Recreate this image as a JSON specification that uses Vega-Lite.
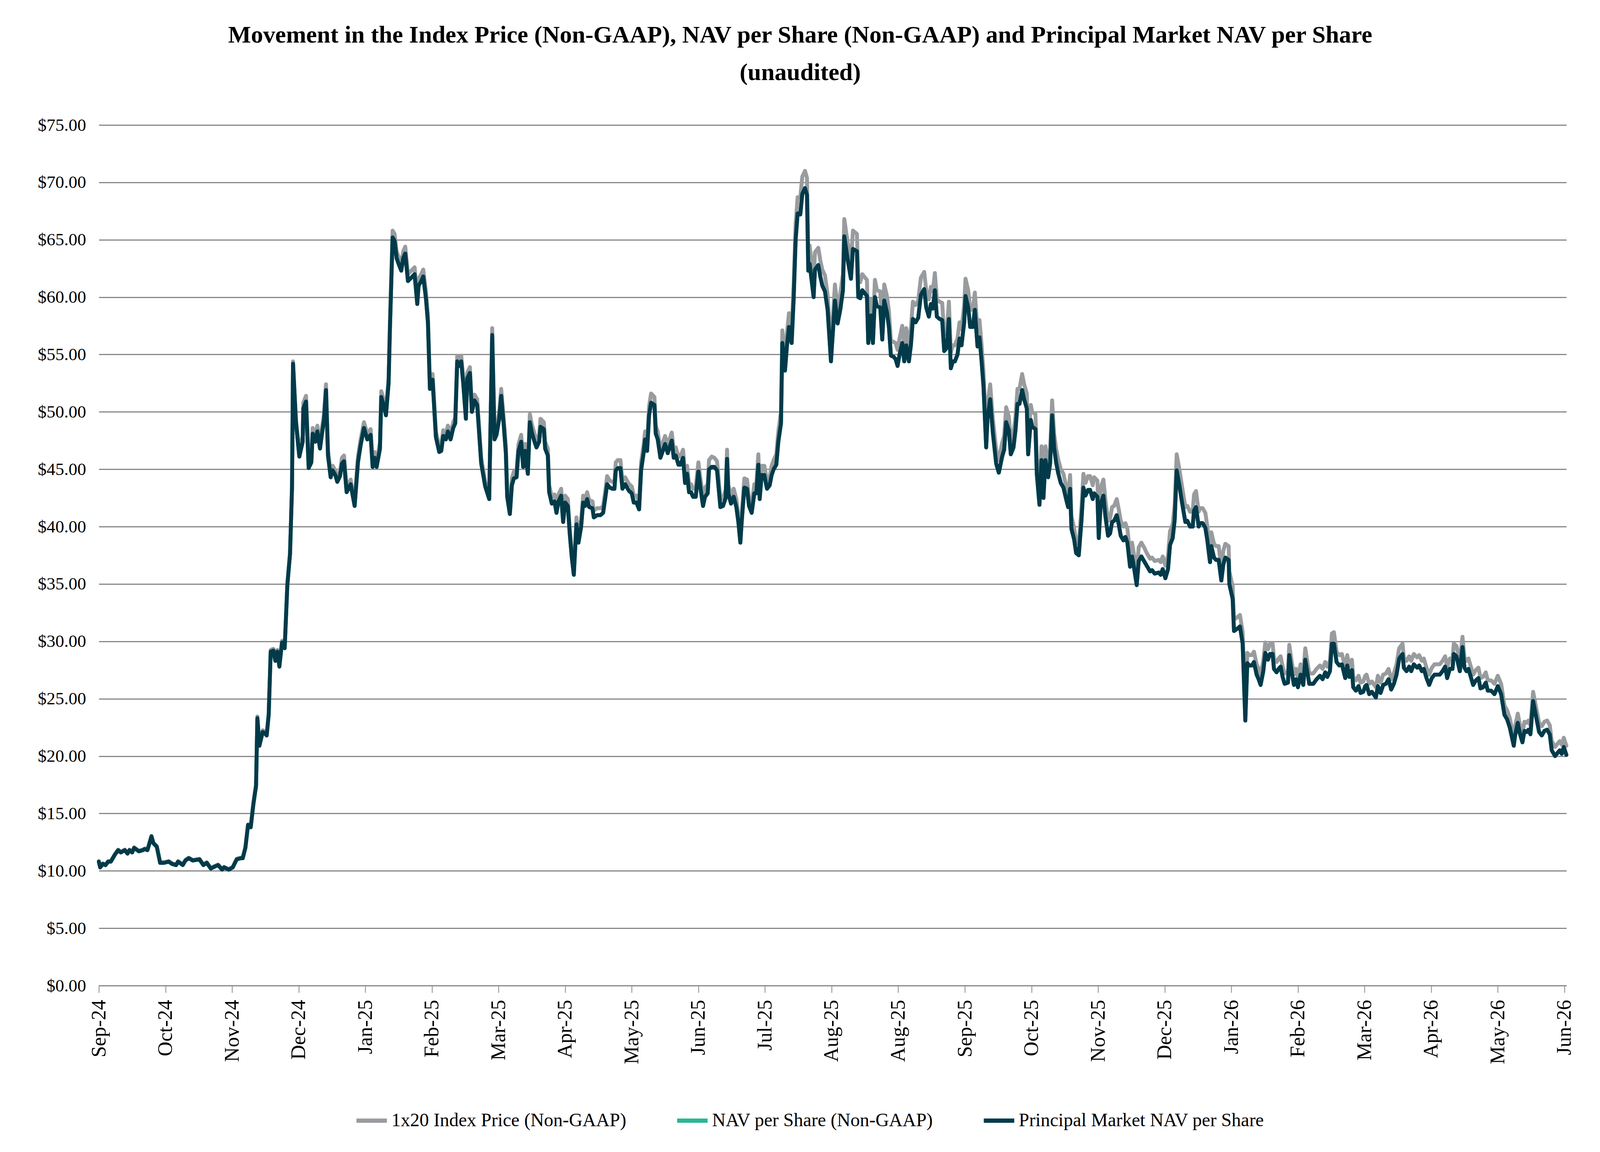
{
  "$schema": "https://vega.github.io/schema/vega-lite/v6.json",
  "width": 3757,
  "height": 2203,
  "autosize": {"type": "none"},
  "padding": {"left": 253, "top": 320, "right": 86, "bottom": 426},
  "background": "white",
  "config": {"font": "Liberation Serif", "view": {"stroke": null}},
  "title": {
    "text": ["Movement in the Index Price (Non-GAAP), NAV per Share (Non-GAAP) and Principal Market NAV per Share", "(unaudited)"],
    "font": "Liberation Serif",
    "fontSize": 62,
    "fontWeight": "bold",
    "color": "black",
    "anchor": "middle",
    "frame": "group",
    "dx": -83,
    "offset": 80,
    "lineHeight": 96
  },
  "data": {
    "values": [
      {"t":0,"g":10.85,"n":10.8,"p":10.8},{"t":0.02,"g":10.35,"n":10.3,"p":10.3},{"t":0.06,"g":10.65,"n":10.6,"p":10.6},{"t":0.1,"g":10.55,"n":10.5,"p":10.5},
      {"t":0.14,"g":10.85,"n":10.8,"p":10.8},{"t":0.18,"g":10.85,"n":10.8,"p":10.8},{"t":0.24,"g":11.45,"n":11.4,"p":11.4},{"t":0.29,"g":11.85,"n":11.8,"p":11.8},
      {"t":0.33,"g":11.65,"n":11.6,"p":11.6},{"t":0.39,"g":11.85,"n":11.8,"p":11.8},{"t":0.43,"g":11.55,"n":11.5,"p":11.5},{"t":0.46,"g":11.85,"n":11.8,"p":11.8},
      {"t":0.5,"g":11.65,"n":11.6,"p":11.6},{"t":0.53,"g":12.05,"n":12.0,"p":12.0},{"t":0.6,"g":11.75,"n":11.7,"p":11.7},{"t":0.66,"g":11.85,"n":11.8,"p":11.8},
      {"t":0.69,"g":11.95,"n":11.9,"p":11.9},{"t":0.73,"g":11.85,"n":11.8,"p":11.8},{"t":0.79,"g":13.05,"n":13.0,"p":13.0},{"t":0.82,"g":12.45,"n":12.4,"p":12.4},
      {"t":0.87,"g":12.15,"n":12.1,"p":12.1},{"t":0.92,"g":10.75,"n":10.7,"p":10.7},{"t":0.98,"g":10.75,"n":10.7,"p":10.7},{"t":1.05,"g":10.85,"n":10.8,"p":10.8},
      {"t":1.1,"g":10.65,"n":10.6,"p":10.6},{"t":1.16,"g":10.55,"n":10.5,"p":10.5},{"t":1.19,"g":10.85,"n":10.8,"p":10.8},{"t":1.26,"g":10.55,"n":10.5,"p":10.5},
      {"t":1.3,"g":10.95,"n":10.9,"p":10.9},{"t":1.35,"g":11.15,"n":11.1,"p":11.1},{"t":1.41,"g":10.95,"n":10.9,"p":10.9},{"t":1.51,"g":11.05,"n":11.0,"p":11.0},
      {"t":1.57,"g":10.55,"n":10.5,"p":10.5},{"t":1.62,"g":10.75,"n":10.7,"p":10.7},{"t":1.68,"g":10.25,"n":10.2,"p":10.2},{"t":1.75,"g":10.45,"n":10.4,"p":10.4},
      {"t":1.79,"g":10.55,"n":10.5,"p":10.5},{"t":1.85,"g":10.15,"n":10.1,"p":10.1},{"t":1.88,"g":10.35,"n":10.3,"p":10.3},{"t":1.95,"g":10.15,"n":10.1,"p":10.1},
      {"t":2.01,"g":10.35,"n":10.3,"p":10.3},{"t":2.07,"g":11.05,"n":11.0,"p":11.0},{"t":2.13,"g":11.15,"n":11.1,"p":11.1},{"t":2.16,"g":11.15,"n":11.1,"p":11.1},
      {"t":2.2,"g":12.05,"n":12.0,"p":12.0},{"t":2.24,"g":14.05,"n":14.0,"p":14.0},{"t":2.28,"g":13.85,"n":13.8,"p":13.8},{"t":2.32,"g":15.95,"n":15.8,"p":15.8},
      {"t":2.36,"g":17.55,"n":17.4,"p":17.4},{"t":2.38,"g":23.45,"n":23.3,"p":23.3},{"t":2.41,"g":21.05,"n":20.9,"p":20.9},{"t":2.46,"g":22.25,"n":22.1,"p":22.1},
      {"t":2.49,"g":22.15,"n":22.0,"p":22.0},{"t":2.52,"g":21.95,"n":21.8,"p":21.8},{"t":2.55,"g":23.75,"n":23.6,"p":23.6},{"t":2.58,"g":29.25,"n":29.1,"p":29.1},
      {"t":2.62,"g":29.35,"n":29.2,"p":29.2},{"t":2.65,"g":28.45,"n":28.3,"p":28.3},{"t":2.68,"g":29.25,"n":29.1,"p":29.1},{"t":2.71,"g":27.95,"n":27.8,"p":27.8},
      {"t":2.75,"g":30.05,"n":29.9,"p":29.9},{"t":2.79,"g":29.55,"n":29.4,"p":29.4},{"t":2.83,"g":35.05,"n":34.9,"p":34.9},{"t":2.87,"g":37.75,"n":37.6,"p":37.6},
      {"t":2.9,"g":43.55,"n":43.4,"p":43.4},{"t":2.915,"g":54.4,"n":54.2,"p":54.2},{"t":2.96,"g":49.3,"n":49.0,"p":49.0},
      {"t":3.01,"g":46.6,"n":46.1,"p":46.1},{"t":3.06,"g":47.9,"n":47.4,"p":47.4},{"t":3.07,"g":50.8,"n":50.3,"p":50.3},{"t":3.11,"g":51.4,"n":50.9,"p":50.9},
      {"t":3.15,"g":45.6,"n":45.1,"p":45.1},{"t":3.19,"g":46.1,"n":45.6,"p":45.6},{"t":3.21,"g":48.6,"n":48.1,"p":48.1},{"t":3.25,"g":47.9,"n":47.4,"p":47.4},
      {"t":3.28,"g":48.8,"n":48.3,"p":48.3},{"t":3.32,"g":47.3,"n":46.8,"p":46.8},{"t":3.35,"g":48.6,"n":48.1,"p":48.1},{"t":3.38,"g":49.8,"n":49.3,"p":49.3},
      {"t":3.41,"g":52.4,"n":51.9,"p":51.9},{"t":3.44,"g":46.7,"n":46.2,"p":46.2},{"t":3.48,"g":44.7,"n":44.3,"p":44.3},{"t":3.51,"g":45.3,"n":44.9,"p":44.9},
      {"t":3.55,"g":44.9,"n":44.5,"p":44.5},{"t":3.58,"g":44.3,"n":43.9,"p":43.9},{"t":3.62,"g":44.8,"n":44.4,"p":44.4},{"t":3.65,"g":46.0,"n":45.5,"p":45.5},
      {"t":3.68,"g":46.2,"n":45.7,"p":45.7},{"t":3.72,"g":43.4,"n":43.0,"p":43.0},{"t":3.78,"g":44.1,"n":43.7,"p":43.7},{"t":3.84,"g":42.2,"n":41.8,"p":41.8},
      {"t":3.89,"g":46.1,"n":45.6,"p":45.6},{"t":3.93,"g":47.6,"n":47.1,"p":47.1},{"t":3.98,"g":49.1,"n":48.6,"p":48.6},{"t":4.03,"g":48.1,"n":47.6,"p":47.6},
      {"t":4.08,"g":48.5,"n":48.0,"p":48.0},{"t":4.11,"g":45.7,"n":45.2,"p":45.2},{"t":4.14,"g":46.5,"n":46.0,"p":46.0},{"t":4.17,"g":45.7,"n":45.2,"p":45.2},
      {"t":4.22,"g":47.3,"n":46.8,"p":46.8},{"t":4.24,"g":51.8,"n":51.3,"p":51.3},{"t":4.28,"g":51.0,"n":50.5,"p":50.5},{"t":4.31,"g":50.2,"n":49.7,"p":49.7},
      {"t":4.35,"g":53.0,"n":52.5,"p":52.5},{"t":4.37,"g":57.9,"n":57.3,"p":57.3},{"t":4.41,"g":65.8,"n":65.2,"p":65.2},{"t":4.44,"g":65.5,"n":64.9,"p":64.9},
      {"t":4.47,"g":64.0,"n":63.4,"p":63.4},{"t":4.5,"g":63.5,"n":62.9,"p":62.9},{"t":4.54,"g":62.9,"n":62.3,"p":62.3},{"t":4.57,"g":64.0,"n":63.4,"p":63.4},
      {"t":4.6,"g":64.4,"n":63.8,"p":63.8},{"t":4.64,"g":62.0,"n":61.4,"p":61.4},{"t":4.69,"g":62.3,"n":61.7,"p":61.7},{"t":4.74,"g":62.6,"n":62.0,"p":62.0},
      {"t":4.78,"g":60.0,"n":59.4,"p":59.4},{"t":4.8,"g":61.6,"n":61.0,"p":61.0},{"t":4.84,"g":62.0,"n":61.4,"p":61.4},{"t":4.87,"g":62.4,"n":61.8,"p":61.8},
      {"t":4.91,"g":60.5,"n":59.9,"p":59.9},{"t":4.94,"g":58.4,"n":57.8,"p":57.8},{"t":4.97,"g":52.5,"n":52.0,"p":52.0},{"t":4.99,"g":53.1,"n":52.6,"p":52.6},
      {"t":5.01,"g":53.3,"n":52.8,"p":52.8},{"t":5.06,"g":48.3,"n":47.8,"p":47.8},{"t":5.11,"g":47.0,"n":46.5,"p":46.5},{"t":5.14,"g":47.1,"n":46.6,"p":46.6},
      {"t":5.17,"g":48.4,"n":47.9,"p":47.9},{"t":5.21,"g":48.1,"n":47.6,"p":47.6},{"t":5.24,"g":48.8,"n":48.3,"p":48.3},{"t":5.28,"g":48.1,"n":47.6,"p":47.6},
      {"t":5.32,"g":49.1,"n":48.6,"p":48.6},{"t":5.35,"g":49.5,"n":49.0,"p":49.0},{"t":5.38,"g":54.9,"n":54.4,"p":54.4},{"t":5.41,"g":54.5,"n":54.0,"p":54.0},
      {"t":5.44,"g":54.9,"n":54.4,"p":54.4},{"t":5.47,"g":53.0,"n":52.5,"p":52.5},{"t":5.51,"g":49.9,"n":49.4,"p":49.4},{"t":5.53,"g":53.4,"n":52.9,"p":52.9},
      {"t":5.57,"g":53.9,"n":53.4,"p":53.4},{"t":5.6,"g":50.5,"n":50.0,"p":50.0},{"t":5.64,"g":51.5,"n":51.0,"p":51.0},{"t":5.68,"g":51.1,"n":50.6,"p":50.6},
      {"t":5.74,"g":46.0,"n":45.5,"p":45.5},{"t":5.8,"g":43.9,"n":43.5,"p":43.5},{"t":5.86,"g":42.8,"n":42.4,"p":42.4},{"t":5.905,"g":57.3,"n":56.7,"p":56.7},
      {"t":5.94,"g":48.1,"n":47.6,"p":47.6},{"t":5.97,"g":48.6,"n":48.0,"p":48.0},
      {"t":6.01,"g":50.0,"n":49.4,"p":49.4},{"t":6.04,"g":52.0,"n":51.4,"p":51.4},{"t":6.08,"g":49.3,"n":48.7,"p":48.7},{"t":6.11,"g":47.0,"n":46.4,"p":46.4},
      {"t":6.13,"g":43.2,"n":42.6,"p":42.6},{"t":6.17,"g":41.6,"n":41.1,"p":41.1},{"t":6.2,"g":44.2,"n":43.6,"p":43.6},{"t":6.23,"g":44.8,"n":44.2,"p":44.2},
      {"t":6.27,"g":44.9,"n":44.3,"p":44.3},{"t":6.3,"g":47.2,"n":46.6,"p":46.6},{"t":6.34,"g":48.0,"n":47.4,"p":47.4},{"t":6.37,"g":45.8,"n":45.2,"p":45.2},
      {"t":6.4,"g":47.2,"n":46.6,"p":46.6},{"t":6.44,"g":45.2,"n":44.6,"p":44.6},{"t":6.47,"g":49.8,"n":49.1,"p":49.1},{"t":6.5,"g":48.9,"n":48.2,"p":48.2},
      {"t":6.54,"g":48.1,"n":47.4,"p":47.4},{"t":6.57,"g":47.5,"n":46.9,"p":46.9},{"t":6.61,"g":48.0,"n":47.4,"p":47.4},{"t":6.63,"g":49.4,"n":48.7,"p":48.7},
      {"t":6.68,"g":49.1,"n":48.5,"p":48.5},{"t":6.7,"g":47.4,"n":46.8,"p":46.8},{"t":6.74,"g":46.8,"n":46.2,"p":46.2},{"t":6.76,"g":43.6,"n":43.0,"p":43.0},
      {"t":6.8,"g":42.6,"n":42.0,"p":42.0},{"t":6.84,"g":42.8,"n":42.2,"p":42.2},{"t":6.87,"g":41.8,"n":41.2,"p":41.2},{"t":6.9,"g":42.8,"n":42.2,"p":42.2},
      {"t":6.94,"g":43.3,"n":42.7,"p":42.7},{"t":6.97,"g":41.0,"n":40.4,"p":40.4},{"t":7.0,"g":42.7,"n":42.1,"p":42.1},{"t":7.04,"g":42.4,"n":41.8,"p":41.8},
      {"t":7.07,"g":39.8,"n":39.3,"p":39.3},{"t":7.1,"g":37.7,"n":37.3,"p":37.3},{"t":7.13,"g":36.0,"n":35.8,"p":35.8},{"t":7.17,"g":40.8,"n":40.2,"p":40.2},
      {"t":7.2,"g":39.1,"n":38.6,"p":38.6},{"t":7.24,"g":40.6,"n":40.0,"p":40.0},{"t":7.27,"g":42.7,"n":42.1,"p":42.1},{"t":7.3,"g":42.4,"n":41.8,"p":41.8},
      {"t":7.33,"g":43.0,"n":42.4,"p":42.4},{"t":7.36,"g":42.3,"n":41.7,"p":41.7},{"t":7.41,"g":42.2,"n":41.6,"p":41.6},{"t":7.43,"g":41.4,"n":40.8,"p":40.8},
      {"t":7.48,"g":41.6,"n":41.0,"p":41.0},{"t":7.53,"g":41.6,"n":41.0,"p":41.0},{"t":7.57,"g":41.8,"n":41.2,"p":41.2},{"t":7.6,"g":43.0,"n":42.4,"p":42.4},
      {"t":7.63,"g":44.4,"n":43.7,"p":43.7},{"t":7.67,"g":44.0,"n":43.4,"p":43.4},{"t":7.71,"g":43.9,"n":43.3,"p":43.3},{"t":7.74,"g":43.9,"n":43.3,"p":43.3},
      {"t":7.76,"g":45.6,"n":44.9,"p":44.9},{"t":7.79,"g":45.8,"n":45.1,"p":45.1},{"t":7.83,"g":45.8,"n":45.1,"p":45.1},{"t":7.86,"g":44.0,"n":43.3,"p":43.3},
      {"t":7.9,"g":44.3,"n":43.7,"p":43.7},{"t":7.93,"g":44.0,"n":43.4,"p":43.4},{"t":7.96,"g":43.7,"n":43.1,"p":43.1},{"t":8.0,"g":43.5,"n":42.9,"p":42.9},
      {"t":8.03,"g":42.7,"n":42.1,"p":42.1},{"t":8.07,"g":42.7,"n":42.1,"p":42.1},{"t":8.11,"g":42.0,"n":41.5,"p":41.5},{"t":8.14,"g":45.6,"n":44.9,"p":44.9},
      {"t":8.18,"g":47.2,"n":46.5,"p":46.5},{"t":8.2,"g":48.3,"n":47.6,"p":47.6},{"t":8.23,"g":47.3,"n":46.6,"p":46.6},{"t":8.26,"g":50.5,"n":49.7,"p":49.7},
      {"t":8.29,"g":51.6,"n":50.8,"p":50.8},{"t":8.34,"g":51.3,"n":50.6,"p":50.6},{"t":8.36,"g":48.8,"n":48.1,"p":48.1},{"t":8.39,"g":48.3,"n":47.6,"p":47.6},
      {"t":8.43,"g":46.7,"n":46.0,"p":46.0},{"t":8.46,"g":47.2,"n":46.5,"p":46.5},{"t":8.5,"g":47.9,"n":47.2,"p":47.2},{"t":8.54,"g":47.1,"n":46.4,"p":46.4},
      {"t":8.6,"g":48.2,"n":47.5,"p":47.5},{"t":8.63,"g":46.7,"n":46.0,"p":46.0},{"t":8.66,"g":46.9,"n":46.2,"p":46.2},{"t":8.7,"g":46.1,"n":45.4,"p":45.4},
      {"t":8.73,"g":46.1,"n":45.4,"p":45.4},{"t":8.77,"g":46.7,"n":46.0,"p":46.0},{"t":8.8,"g":44.5,"n":43.8,"p":43.8},{"t":8.83,"g":45.3,"n":44.6,"p":44.6},
      {"t":8.86,"g":43.7,"n":43.0,"p":43.0},{"t":8.89,"g":43.7,"n":43.0,"p":43.0},{"t":8.92,"g":43.3,"n":42.6,"p":42.6},{"t":8.96,"g":43.4,"n":42.6,"p":42.6},
      {"t":9.0,"g":45.6,"n":44.8,"p":44.8},{"t":9.03,"g":44.2,"n":43.4,"p":43.4},{"t":9.07,"g":42.6,"n":41.8,"p":41.8},{"t":9.1,"g":43.4,"n":42.6,"p":42.6},
      {"t":9.14,"g":43.7,"n":42.9,"p":42.9},{"t":9.16,"g":45.8,"n":45.0,"p":45.0},{"t":9.2,"g":46.1,"n":45.2,"p":45.2},{"t":9.24,"g":46.0,"n":45.2,"p":45.2},
      {"t":9.28,"g":45.7,"n":44.9,"p":44.9},{"t":9.33,"g":42.4,"n":41.7,"p":41.7},{"t":9.37,"g":42.5,"n":41.8,"p":41.8},{"t":9.41,"g":43.2,"n":42.5,"p":42.5},
      {"t":9.43,"g":46.7,"n":45.9,"p":45.9},{"t":9.45,"g":43.6,"n":42.9,"p":42.9},{"t":9.49,"g":42.7,"n":42.0,"p":42.0},{"t":9.53,"g":43.3,"n":42.6,"p":42.6},
      {"t":9.57,"g":42.4,"n":41.7,"p":41.7},{"t":9.6,"g":41.0,"n":40.4,"p":40.4},{"t":9.63,"g":39.0,"n":38.6,"p":38.6},{"t":9.65,"g":41.0,"n":40.4,"p":40.4},
      {"t":9.69,"g":44.2,"n":43.4,"p":43.4},{"t":9.73,"g":44.1,"n":43.3,"p":43.3},{"t":9.76,"g":42.5,"n":41.8,"p":41.8},{"t":9.8,"g":41.9,"n":41.2,"p":41.2},
      {"t":9.84,"g":43.7,"n":42.9,"p":42.9},{"t":9.87,"g":43.7,"n":42.9,"p":42.9},{"t":9.9,"g":46.3,"n":45.4,"p":45.4},{"t":9.92,"g":43.1,"n":42.4,"p":42.4},
      {"t":9.95,"g":45.3,"n":44.5,"p":44.5},{"t":9.99,"g":45.3,"n":44.5,"p":44.5},{"t":10.03,"g":44.0,"n":43.3,"p":43.3},{"t":10.07,"g":44.3,"n":43.6,"p":43.6},
      {"t":10.1,"g":45.3,"n":44.5,"p":44.5},{"t":10.13,"g":45.8,"n":45.0,"p":45.0},{"t":10.17,"g":46.3,"n":45.4,"p":45.4},{"t":10.2,"g":48.3,"n":47.4,"p":47.4},
      {"t":10.24,"g":50.0,"n":49.0,"p":49.0},{"t":10.26,"g":57.1,"n":56.0,"p":56.0},{"t":10.3,"g":54.6,"n":53.6,"p":53.6},{"t":10.33,"g":56.9,"n":55.8,"p":55.8},
      {"t":10.36,"g":58.6,"n":57.4,"p":57.4},{"t":10.4,"g":57.2,"n":56.0,"p":56.0},{"t":10.43,"g":61.1,"n":59.8,"p":59.8},{"t":10.46,"g":66.4,"n":65.0,"p":65.0},
      {"t":10.49,"g":68.7,"n":67.3,"p":67.3},{"t":10.53,"g":68.7,"n":67.2,"p":67.2},{"t":10.56,"g":70.5,"n":69.0,"p":69.0},{"t":10.6,"g":71.0,"n":69.5,"p":69.5},
      {"t":10.63,"g":70.4,"n":68.9,"p":68.9},{"t":10.65,"g":63.9,"n":62.3,"p":62.3},{"t":10.67,"g":64.5,"n":62.9,"p":62.9},{"t":10.73,"g":61.4,"n":60.0,"p":60.0},
      {"t":10.75,"g":63.9,"n":62.4,"p":62.4},{"t":10.8,"g":64.3,"n":62.8,"p":62.8},{"t":10.83,"g":63.2,"n":61.8,"p":61.8},{"t":10.86,"g":62.4,"n":61.0,"p":61.0},
      {"t":10.9,"g":61.9,"n":60.5,"p":60.5},{"t":10.94,"g":60.2,"n":58.9,"p":58.9},{"t":10.99,"g":55.5,"n":54.4,"p":54.4},{"t":11.05,"g":61.1,"n":59.7,"p":59.7},
      {"t":11.09,"g":59.0,"n":57.7,"p":57.7},{"t":11.13,"g":60.3,"n":58.9,"p":58.9},{"t":11.17,"g":62.0,"n":60.6,"p":60.6},{"t":11.19,"g":66.8,"n":65.3,"p":65.3},
      {"t":11.24,"g":64.8,"n":63.3,"p":63.3},{"t":11.29,"g":63.0,"n":61.6,"p":61.6},{"t":11.32,"g":65.8,"n":64.2,"p":64.2},{"t":11.38,"g":65.5,"n":64.0,"p":64.0},
      {"t":11.4,"g":61.4,"n":60.0,"p":60.0},{"t":11.43,"g":61.3,"n":59.9,"p":59.9},{"t":11.46,"g":62.0,"n":60.6,"p":60.6},{"t":11.53,"g":61.5,"n":60.1,"p":60.1},
      {"t":11.55,"g":57.3,"n":56.0,"p":56.0},{"t":11.59,"g":59.8,"n":58.4,"p":58.4},{"t":11.62,"g":57.3,"n":56.0,"p":56.0},{"t":11.65,"g":61.5,"n":60.0,"p":60.0},
      {"t":11.68,"g":60.6,"n":59.2,"p":59.2},{"t":11.73,"g":60.5,"n":59.1,"p":59.1},{"t":11.76,"g":57.6,"n":56.3,"p":56.3},{"t":11.79,"g":61.1,"n":59.7,"p":59.7},
      {"t":11.83,"g":60.1,"n":58.7,"p":58.7},{"t":11.86,"g":58.8,"n":57.4,"p":57.4},{"t":11.89,"g":56.2,"n":54.9,"p":54.9},{"t":11.93,"g":56.1,"n":54.8,"p":54.8},
      {"t":11.96,"g":56.0,"n":54.6,"p":54.6},{"t":11.99,"g":55.4,"n":54.0,"p":54.0},{"t":12.02,"g":56.4,"n":55.0,"p":55.0},{"t":12.06,"g":57.5,"n":56.0,"p":56.0},
      {"t":12.09,"g":55.8,"n":54.4,"p":54.4},{"t":12.12,"g":57.3,"n":55.8,"p":55.8},{"t":12.16,"g":55.8,"n":54.4,"p":54.4},{"t":12.19,"g":57.3,"n":55.8,"p":55.8},
      {"t":12.22,"g":59.6,"n":58.1,"p":58.1},{"t":12.26,"g":59.3,"n":57.8,"p":57.8},{"t":12.3,"g":59.7,"n":58.2,"p":58.2},{"t":12.34,"g":61.7,"n":60.2,"p":60.2},
      {"t":12.39,"g":62.2,"n":60.7,"p":60.7},{"t":12.42,"g":60.6,"n":59.1,"p":59.1},{"t":12.46,"g":59.8,"n":58.3,"p":58.3},{"t":12.49,"g":60.9,"n":59.4,"p":59.4},
      {"t":12.52,"g":60.5,"n":59.0,"p":59.0},{"t":12.55,"g":62.1,"n":60.6,"p":60.6},{"t":12.58,"g":59.8,"n":58.3,"p":58.3},{"t":12.62,"g":59.6,"n":58.1,"p":58.1},
      {"t":12.66,"g":59.5,"n":58.0,"p":58.0},{"t":12.69,"g":56.7,"n":55.3,"p":55.3},{"t":12.73,"g":57.0,"n":55.6,"p":55.6},{"t":12.76,"g":59.6,"n":58.1,"p":58.1},
      {"t":12.79,"g":55.2,"n":53.8,"p":53.8},{"t":12.82,"g":55.8,"n":54.4,"p":54.4},{"t":12.85,"g":55.8,"n":54.4,"p":54.4},{"t":12.89,"g":56.4,"n":55.0,"p":55.0},
      {"t":12.92,"g":57.8,"n":56.4,"p":56.4},{"t":12.95,"g":57.2,"n":55.8,"p":55.8},{"t":12.99,"g":59.3,"n":57.8,"p":57.8},{"t":13.01,"g":61.6,"n":60.1,"p":60.1},
      {"t":13.05,"g":60.6,"n":59.1,"p":59.1},{"t":13.08,"g":58.9,"n":57.4,"p":57.4},{"t":13.12,"g":58.9,"n":57.4,"p":57.4},{"t":13.15,"g":60.4,"n":58.9,"p":58.9},
      {"t":13.19,"g":57.1,"n":55.7,"p":55.7},{"t":13.22,"g":58.0,"n":56.5,"p":56.5},{"t":13.25,"g":55.9,"n":54.5,"p":54.5},{"t":13.28,"g":53.5,"n":52.2,"p":52.2},
      {"t":13.32,"g":48.1,"n":46.9,"p":46.9},{"t":13.34,"g":50.7,"n":49.4,"p":49.4},{"t":13.38,"g":52.4,"n":51.1,"p":51.1},{"t":13.42,"g":49.4,"n":48.2,"p":48.2},
      {"t":13.47,"g":46.7,"n":45.5,"p":45.5},{"t":13.51,"g":45.8,"n":44.7,"p":44.7},{"t":13.56,"g":47.3,"n":46.1,"p":46.1},{"t":13.59,"g":47.9,"n":46.7,"p":46.7},
      {"t":13.62,"g":50.4,"n":49.1,"p":49.1},{"t":13.66,"g":49.6,"n":48.4,"p":48.4},{"t":13.69,"g":47.5,"n":46.3,"p":46.3},{"t":13.73,"g":48.1,"n":46.9,"p":46.9},
      {"t":13.76,"g":49.6,"n":48.4,"p":48.4},{"t":13.79,"g":52.0,"n":50.7,"p":50.7},{"t":13.82,"g":52.0,"n":50.7,"p":50.7},{"t":13.86,"g":53.3,"n":51.9,"p":51.9},
      {"t":13.89,"g":52.4,"n":51.1,"p":51.1},{"t":13.93,"g":51.6,"n":50.3,"p":50.3},{"t":13.95,"g":47.5,"n":46.3,"p":46.3},{"t":13.99,"g":50.6,"n":49.3,"p":49.3},
      {"t":14.01,"g":50.0,"n":48.7,"p":48.7},{"t":14.06,"g":49.8,"n":48.5,"p":48.5},{"t":14.08,"g":45.8,"n":44.6,"p":44.6},{"t":14.12,"g":43.0,"n":41.9,"p":41.9},
      {"t":14.15,"g":47.0,"n":45.8,"p":45.8},{"t":14.18,"g":43.6,"n":42.5,"p":42.5},{"t":14.21,"g":47.0,"n":45.8,"p":45.8},{"t":14.25,"g":45.5,"n":44.3,"p":44.3},
      {"t":14.28,"g":46.7,"n":45.5,"p":45.5},{"t":14.31,"g":51.0,"n":49.7,"p":49.7},{"t":14.34,"g":48.1,"n":46.9,"p":46.9},{"t":14.37,"g":46.8,"n":45.6,"p":45.6},
      {"t":14.4,"g":45.9,"n":44.7,"p":44.7},{"t":14.44,"g":45.0,"n":43.8,"p":43.8},{"t":14.48,"g":44.6,"n":43.4,"p":43.4},{"t":14.52,"g":43.5,"n":42.4,"p":42.4},
      {"t":14.55,"g":42.8,"n":41.7,"p":41.7},{"t":14.58,"g":44.5,"n":43.3,"p":43.3},{"t":14.6,"g":40.9,"n":39.8,"p":39.8},{"t":14.64,"g":39.9,"n":38.9,"p":38.9},
      {"t":14.67,"g":38.7,"n":37.7,"p":37.7},{"t":14.71,"g":38.5,"n":37.5,"p":37.5},{"t":14.75,"g":41.6,"n":40.5,"p":40.5},{"t":14.78,"g":44.6,"n":43.4,"p":43.4},
      {"t":14.81,"g":43.8,"n":42.7,"p":42.7},{"t":14.85,"g":44.4,"n":43.2,"p":43.2},{"t":14.88,"g":44.4,"n":43.2,"p":43.2},{"t":14.92,"g":43.6,"n":42.4,"p":42.4},
      {"t":14.94,"g":44.3,"n":42.9,"p":42.9},{"t":14.99,"g":44.0,"n":42.6,"p":42.6},{"t":15.01,"g":40.2,"n":39.0,"p":39.0},{"t":15.04,"g":43.4,"n":42.0,"p":42.0},
      {"t":15.08,"g":44.1,"n":42.7,"p":42.7},{"t":15.11,"g":42.3,"n":40.9,"p":40.9},{"t":15.15,"g":40.5,"n":39.2,"p":39.2},{"t":15.18,"g":40.7,"n":39.4,"p":39.4},
      {"t":15.21,"g":41.7,"n":40.4,"p":40.4},{"t":15.24,"g":41.8,"n":40.5,"p":40.5},{"t":15.28,"g":42.4,"n":41.0,"p":41.0},{"t":15.31,"g":41.5,"n":40.2,"p":40.2},
      {"t":15.34,"g":40.5,"n":39.2,"p":39.2},{"t":15.38,"g":40.0,"n":38.8,"p":38.8},{"t":15.41,"g":40.3,"n":39.1,"p":39.1},{"t":15.44,"g":39.8,"n":38.6,"p":38.6},
      {"t":15.48,"g":37.7,"n":36.5,"p":36.5},{"t":15.51,"g":38.6,"n":37.4,"p":37.4},{"t":15.54,"g":37.5,"n":36.4,"p":36.4},{"t":15.58,"g":36.0,"n":34.9,"p":34.9},
      {"t":15.61,"g":38.2,"n":37.0,"p":37.0},{"t":15.65,"g":38.6,"n":37.4,"p":37.4},{"t":15.69,"g":38.2,"n":37.0,"p":37.0},{"t":15.73,"g":37.7,"n":36.6,"p":36.6},
      {"t":15.78,"g":37.2,"n":36.1,"p":36.1},{"t":15.81,"g":37.3,"n":36.2,"p":36.2},{"t":15.85,"g":37.0,"n":35.9,"p":35.9},{"t":15.91,"g":37.1,"n":36.0,"p":36.0},
      {"t":15.94,"g":36.9,"n":35.8,"p":35.8},{"t":15.97,"g":37.4,"n":36.3,"p":36.3},{"t":16.01,"g":36.6,"n":35.5,"p":35.5},{"t":16.05,"g":37.5,"n":36.3,"p":36.3},
      {"t":16.08,"g":39.6,"n":38.4,"p":38.4},{"t":16.12,"g":40.2,"n":39.0,"p":39.0},{"t":16.15,"g":41.9,"n":40.6,"p":40.6},{"t":16.18,"g":46.3,"n":44.9,"p":44.9},
      {"t":16.22,"g":45.0,"n":43.6,"p":43.6},{"t":16.26,"g":43.5,"n":42.1,"p":42.1},{"t":16.31,"g":41.7,"n":40.4,"p":40.4},{"t":16.34,"g":41.8,"n":40.5,"p":40.5},
      {"t":16.38,"g":41.3,"n":40.0,"p":40.0},{"t":16.42,"g":41.3,"n":40.0,"p":40.0},{"t":16.44,"g":42.8,"n":41.4,"p":41.4},{"t":16.47,"g":43.1,"n":41.7,"p":41.7},
      {"t":16.51,"g":41.3,"n":40.0,"p":40.0},{"t":16.53,"g":41.6,"n":40.3,"p":40.3},{"t":16.57,"g":41.6,"n":40.3,"p":40.3},{"t":16.61,"g":41.2,"n":39.9,"p":39.9},
      {"t":16.64,"g":40.0,"n":38.8,"p":38.8},{"t":16.68,"g":38.1,"n":36.9,"p":36.9},{"t":16.7,"g":39.5,"n":38.3,"p":38.3},{"t":16.74,"g":38.5,"n":37.3,"p":37.3},
      {"t":16.77,"g":38.3,"n":37.1,"p":37.1},{"t":16.81,"g":38.3,"n":37.1,"p":37.1},{"t":16.85,"g":36.4,"n":35.3,"p":35.3},{"t":16.88,"g":37.9,"n":36.7,"p":36.7},
      {"t":16.91,"g":38.5,"n":37.3,"p":37.3},{"t":16.96,"g":38.3,"n":37.1,"p":37.1},{"t":16.97,"g":36.1,"n":35.0,"p":35.0},{"t":17.02,"g":34.8,"n":33.7,"p":33.7},
      {"t":17.04,"g":31.9,"n":30.9,"p":30.9},{"t":17.09,"g":32.1,"n":31.1,"p":31.1},{"t":17.13,"g":32.3,"n":31.3,"p":31.3},{"t":17.17,"g":30.8,"n":29.8,"p":29.8},
      {"t":17.21,"g":23.8,"n":23.1,"p":23.1},{"t":17.24,"g":29.0,"n":28.1,"p":28.1},{"t":17.27,"g":28.8,"n":27.9,"p":27.9},{"t":17.31,"g":28.8,"n":27.9,"p":27.9},
      {"t":17.34,"g":29.1,"n":28.2,"p":28.2},{"t":17.38,"g":28.0,"n":27.1,"p":27.1},{"t":17.41,"g":27.6,"n":26.7,"p":26.7},{"t":17.44,"g":27.1,"n":26.2,"p":26.2},
      {"t":17.48,"g":28.3,"n":27.4,"p":27.4},{"t":17.51,"g":29.9,"n":29.0,"p":29.0},{"t":17.55,"g":29.3,"n":28.4,"p":28.4},{"t":17.58,"g":29.8,"n":28.9,"p":28.9},
      {"t":17.62,"g":29.8,"n":28.9,"p":28.9},{"t":17.64,"g":28.5,"n":27.6,"p":27.6},{"t":17.68,"g":28.2,"n":27.3,"p":27.3},{"t":17.71,"g":28.5,"n":27.6,"p":27.6},
      {"t":17.74,"g":28.7,"n":27.8,"p":27.8},{"t":17.77,"g":27.8,"n":26.9,"p":26.9},{"t":17.8,"g":27.2,"n":26.3,"p":26.3},{"t":17.85,"g":27.3,"n":26.4,"p":26.4},
      {"t":17.87,"g":29.7,"n":28.8,"p":28.8},{"t":17.91,"g":28.1,"n":27.2,"p":27.2},{"t":17.94,"g":27.1,"n":26.2,"p":26.2},{"t":17.97,"g":27.6,"n":26.7,"p":26.7},
      {"t":18.0,"g":26.9,"n":26.0,"p":26.0},{"t":18.04,"g":28.0,"n":27.1,"p":27.1},{"t":18.08,"g":27.1,"n":26.2,"p":26.2},{"t":18.11,"g":29.4,"n":28.4,"p":28.4},
      {"t":18.17,"g":27.2,"n":26.3,"p":26.3},{"t":18.23,"g":27.2,"n":26.3,"p":26.3},{"t":18.28,"g":27.6,"n":26.7,"p":26.7},{"t":18.33,"g":27.9,"n":27.0,"p":27.0},
      {"t":18.37,"g":27.6,"n":26.7,"p":26.7},{"t":18.41,"g":28.2,"n":27.3,"p":27.3},{"t":18.44,"g":27.8,"n":26.9,"p":26.9},{"t":18.48,"g":28.3,"n":27.4,"p":27.4},
      {"t":18.51,"g":30.7,"n":29.8,"p":29.8},{"t":18.54,"g":30.8,"n":29.8,"p":29.8},{"t":18.58,"g":29.1,"n":28.2,"p":28.2},{"t":18.62,"g":28.8,"n":27.9,"p":27.9},
      {"t":18.66,"g":28.9,"n":28.0,"p":28.0},{"t":18.71,"g":27.7,"n":26.8,"p":26.8},{"t":18.74,"g":28.8,"n":27.9,"p":27.9},{"t":18.77,"g":27.8,"n":26.9,"p":26.9},
      {"t":18.81,"g":28.4,"n":27.5,"p":27.5},{"t":18.83,"g":26.9,"n":26.0,"p":26.0},{"t":18.87,"g":26.6,"n":25.7,"p":25.7},{"t":18.91,"g":27.0,"n":26.1,"p":26.1},
      {"t":18.94,"g":26.4,"n":25.5,"p":25.5},{"t":18.98,"g":26.5,"n":25.6,"p":25.6},{"t":19.01,"g":27.0,"n":26.1,"p":26.1},{"t":19.03,"g":27.1,"n":26.2,"p":26.2},
      {"t":19.07,"g":26.3,"n":25.4,"p":25.4},{"t":19.11,"g":26.5,"n":25.6,"p":25.6},{"t":19.17,"g":26.0,"n":25.1,"p":25.1},{"t":19.2,"g":27.0,"n":26.1,"p":26.1},
      {"t":19.24,"g":26.4,"n":25.5,"p":25.5},{"t":19.28,"g":27.1,"n":26.2,"p":26.2},{"t":19.32,"g":27.2,"n":26.3,"p":26.3},{"t":19.36,"g":27.6,"n":26.7,"p":26.7},
      {"t":19.4,"g":26.7,"n":25.8,"p":25.8},{"t":19.44,"g":27.2,"n":26.3,"p":26.3},{"t":19.48,"g":28.0,"n":27.1,"p":27.1},{"t":19.52,"g":29.4,"n":28.5,"p":28.5},
      {"t":19.57,"g":29.8,"n":28.9,"p":28.9},{"t":19.59,"g":28.6,"n":27.7,"p":27.7},{"t":19.63,"g":28.3,"n":27.4,"p":27.4},{"t":19.67,"g":28.7,"n":27.8,"p":27.8},
      {"t":19.7,"g":28.3,"n":27.4,"p":27.4},{"t":19.74,"g":28.9,"n":28.0,"p":28.0},{"t":19.79,"g":28.6,"n":27.7,"p":27.7},{"t":19.82,"g":28.8,"n":27.9,"p":27.9},
      {"t":19.86,"g":28.3,"n":27.4,"p":27.4},{"t":19.89,"g":28.5,"n":27.6,"p":27.6},{"t":19.93,"g":27.7,"n":26.8,"p":26.8},{"t":19.97,"g":27.1,"n":26.2,"p":26.2},
      {"t":20.01,"g":27.7,"n":26.8,"p":26.8},{"t":20.05,"g":28.0,"n":27.1,"p":27.1},{"t":20.13,"g":28.0,"n":27.1,"p":27.1},{"t":20.17,"g":28.3,"n":27.4,"p":27.4},
      {"t":20.21,"g":28.7,"n":27.8,"p":27.8},{"t":20.24,"g":27.7,"n":26.8,"p":26.8},{"t":20.28,"g":28.5,"n":27.6,"p":27.6},{"t":20.32,"g":28.5,"n":27.6,"p":27.6},
      {"t":20.34,"g":29.8,"n":28.9,"p":28.9},{"t":20.38,"g":29.6,"n":28.7,"p":28.7},{"t":20.43,"g":28.3,"n":27.4,"p":27.4},{"t":20.47,"g":30.4,"n":29.5,"p":29.5},
      {"t":20.5,"g":28.6,"n":27.7,"p":27.7},{"t":20.53,"g":28.3,"n":27.4,"p":27.4},{"t":20.56,"g":28.5,"n":27.6,"p":27.6},{"t":20.59,"g":27.9,"n":27.0,"p":27.0},
      {"t":20.63,"g":27.1,"n":26.2,"p":26.2},{"t":20.67,"g":27.5,"n":26.6,"p":26.6},{"t":20.71,"g":27.7,"n":26.8,"p":26.8},{"t":20.74,"g":26.8,"n":25.9,"p":25.9},
      {"t":20.78,"g":26.9,"n":26.0,"p":26.0},{"t":20.82,"g":27.3,"n":26.4,"p":26.4},{"t":20.85,"g":26.6,"n":25.7,"p":25.7},{"t":20.9,"g":26.6,"n":25.7,"p":25.7},
      {"t":20.95,"g":26.3,"n":25.4,"p":25.4},{"t":21.0,"g":27.0,"n":26.1,"p":26.1},{"t":21.05,"g":26.3,"n":25.4,"p":25.4},{"t":21.1,"g":24.4,"n":23.6,"p":23.6},
      {"t":21.14,"g":24.0,"n":23.2,"p":23.2},{"t":21.18,"g":23.3,"n":22.5,"p":22.5},{"t":21.24,"g":21.6,"n":20.9,"p":20.9},{"t":21.26,"g":22.6,"n":21.8,"p":21.8},
      {"t":21.3,"g":23.7,"n":22.9,"p":22.9},{"t":21.33,"g":22.8,"n":22.0,"p":22.0},{"t":21.37,"g":22.0,"n":21.2,"p":21.2},{"t":21.4,"g":23.0,"n":22.2,"p":22.2},
      {"t":21.43,"g":22.9,"n":22.1,"p":22.1},{"t":21.46,"g":23.1,"n":22.3,"p":22.3},{"t":21.49,"g":22.7,"n":21.9,"p":21.9},{"t":21.53,"g":25.6,"n":24.8,"p":24.8},
      {"t":21.57,"g":24.4,"n":23.6,"p":23.6},{"t":21.62,"g":22.9,"n":22.1,"p":22.1},{"t":21.66,"g":22.6,"n":21.8,"p":21.8},{"t":21.7,"g":23.0,"n":22.2,"p":22.2},
      {"t":21.74,"g":23.1,"n":22.3,"p":22.3},{"t":21.78,"g":22.7,"n":21.9,"p":21.9},{"t":21.81,"g":21.3,"n":20.5,"p":20.5},{"t":21.86,"g":20.8,"n":20.0,"p":20.0},
      {"t":21.9,"g":21.1,"n":20.3,"p":20.3},{"t":21.93,"g":21.3,"n":20.5,"p":20.5},{"t":21.96,"g":21.0,"n":20.2,"p":20.2},{"t":21.99,"g":21.6,"n":20.8,"p":20.8},
      {"t":22.03,"g":20.9,"n":20.1,"p":20.1}
    ]
  },
  "encoding": {
    "x": {
      "field": "t",
      "type": "quantitative",
      "scale": {"domain": [0, 22.03], "nice": false, "zero": false},
      "axis": {
        "title": null,
        "values": [0,1,2,3,4,5,6,7,8,9,10,11,12,13,14,15,16,17,18,19,20,21,22],
        "labelExpr": "['Sep-24','Oct-24','Nov-24','Dec-24','Jan-25','Feb-25','Mar-25','Apr-25','May-25','Jun-25','Jul-25','Aug-25','Aug-25','Sep-25','Oct-25','Nov-25','Dec-25','Jan-26','Feb-26','Mar-26','Apr-26','May-26','Jun-26'][datum.value]",
        "labelAngle": 270,
        "labelFont": "Liberation Serif",
        "labelFontSize": 52,
        "labelColor": "black",
        "labelPadding": 18,
        "labelFlush": false,
        "labelOverlap": false,
        "grid": false,
        "domain": true,
        "domainColor": "#888888",
        "domainWidth": 3,
        "ticks": true,
        "tickColor": "#888888",
        "tickWidth": 2,
        "tickSize": 18
      }
    }
  },
  "layer": [
    {
      "mark": {"type": "line", "strokeWidth": 10, "strokeJoin": "round", "strokeCap": "round"},
      "encoding": {
        "y": {
          "field": "g",
          "type": "quantitative",
          "scale": {"domain": [0, 75], "nice": false},
          "axis": {
            "title": null,
            "values": [0,5,10,15,20,25,30,35,40,45,50,55,60,65,70,75],
            "format": "$.2f",
            "labelFont": "Liberation Serif",
            "labelFontSize": 45,
            "labelColor": "black",
            "labelPadding": 33,
            "ticks": false,
            "domain": false,
            "grid": true,
            "gridColor": "#888888",
            "gridWidth": 3
          }
        },
        "color": {
          "datum": "1x20 Index Price (Non-GAAP)",
          "scale": {
            "domain": ["1x20 Index Price (Non-GAAP)", "NAV per Share (Non-GAAP)", "Principal Market NAV per Share"],
            "range": ["#999c9f", "#2db596", "#033a4a"]
          },
          "legend": {
            "orient": "none",
            "legendX": 654,
            "legendY": 2504,
            "direction": "horizontal",
            "title": null,
            "padding": 0,
            "symbolType": "stroke",
            "symbolSize": 6084,
            "symbolStrokeWidth": 11,
            "labelFont": "Liberation Serif",
            "labelFontSize": 48,
            "labelColor": "black",
            "labelOffset": 6,
            "labelLimit": 2000,
            "columnPadding": 107
          }
        }
      }
    },
    {
      "mark": {"type": "line", "strokeWidth": 10, "strokeJoin": "round", "strokeCap": "round"},
      "encoding": {
        "y": {"field": "n", "type": "quantitative"},
        "color": {"datum": "NAV per Share (Non-GAAP)"}
      }
    },
    {
      "mark": {"type": "line", "strokeWidth": 10, "strokeJoin": "round", "strokeCap": "round"},
      "encoding": {
        "y": {"field": "p", "type": "quantitative"},
        "color": {"datum": "Principal Market NAV per Share"}
      }
    }
  ]
}
